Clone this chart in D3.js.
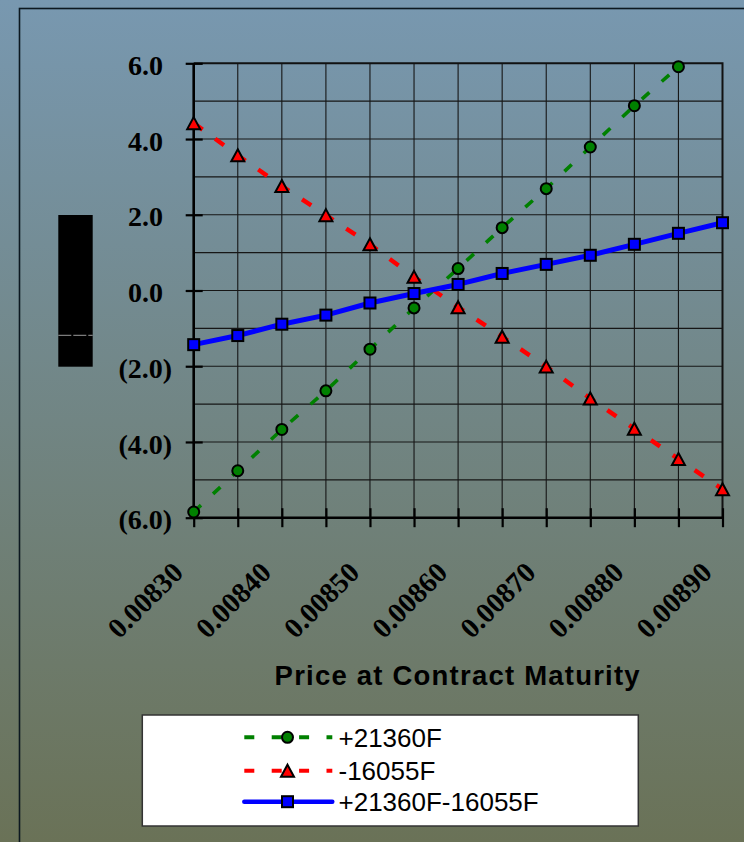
<!DOCTYPE html>
<html>
<head>
<meta charset="utf-8">
<script src="https://cdn.jsdelivr.net/npm/d3@7"></script>
<style>
  html, body { margin: 0; padding: 0; background: #718084; }
  svg { display: block; }
</style>
</head>
<body>
<svg id="chart" width="744" height="842"></svg>
<script>
// Price grid at contract maturity (every 0.00005)
const categories = ["0.00830","0.00835","0.00840","0.00845","0.00850","0.00855","0.00860",
                    "0.00865","0.00870","0.00875","0.00880","0.00885","0.00890"];
const xTickLabels = ["0.00830","0.00840","0.00850","0.00860","0.00870","0.00880","0.00890"];

// Profit / loss per position
const longValues  = [-5.85, -4.76, -3.67, -2.65, -1.55, -0.46, 0.58, 1.66, 2.69, 3.79, 4.88, 5.91];
const shortValues = [4.42, 3.57, 2.76, 1.99, 1.22, 0.36, -0.44, -1.22, -2.01, -2.85, -3.65, -4.45, -5.25];
const netValues   = [-1.43, -1.19, -0.89, -0.65, -0.33, -0.08, 0.16, 0.45, 0.69, 0.93, 1.22, 1.51, 1.79];

const seriesNames = ["+21360F", "-16055F", "+21360F-16055F"];

const yTickValues = [-6, -4, -2, 0, 2, 4, 6];
const yTickLabels = ["(6.0)", "(4.0)", "(2.0)", "0.0", "2.0", "4.0", "6.0"];
const yGridValues = [-5, -4, -3, -2, -1, 0, 1, 2, 3, 4, 5];

const svg = d3.select("#chart");
const W = 744, H = 842;
const plot = { left: 193.7, right: 722.5, top: 63.3, bottom: 517.7 };

// background
const defs = svg.append("defs");
const grad = defs.append("linearGradient").attr("id", "bg").attr("x1", 0).attr("y1", 0).attr("x2", 0).attr("y2", 1);
grad.append("stop").attr("offset", "0%").attr("stop-color", "#7898b0");
grad.append("stop").attr("offset", "100%").attr("stop-color", "#6a7257");
svg.append("rect").attr("width", W).attr("height", H).attr("fill", "url(#bg)");
defs.append("clipPath").attr("id", "plotClip").append("rect")
  .attr("x", plot.left).attr("y", plot.top - 4)
  .attr("width", plot.right - plot.left).attr("height", plot.bottom - plot.top + 8);

// chart frame
svg.append("rect").attr("x", 19.5).attr("y", 8.5).attr("width", 800).attr("height", 900)
  .attr("fill", "none").attr("stroke", "#0c1820").attr("stroke-width", 1.6);

const x = d3.scaleLinear().domain([0, categories.length - 1]).range([plot.left, plot.right]);
const y = d3.scaleLinear().domain([-6, 6]).range([plot.bottom, plot.top]);

// gridlines
const grid = svg.append("g").attr("stroke", "#161616").attr("stroke-width", 1.1);
grid.selectAll("line.h").data(yGridValues).join("line")
  .attr("x1", plot.left).attr("x2", plot.right)
  .attr("y1", d => y(d)).attr("y2", d => y(d));
grid.selectAll("line.v").data(d3.range(1, categories.length - 1)).join("line")
  .attr("y1", plot.top).attr("y2", plot.bottom)
  .attr("x1", d => x(d)).attr("x2", d => x(d));

// plot border (top/right)
svg.append("path")
  .attr("d", `M${plot.left},${y(6)}H${plot.right}V${plot.bottom}`)
  .attr("fill", "none").attr("stroke", "#111").attr("stroke-width", 2);

// y axis
const yAxis = d3.axisLeft(y).tickValues(yTickValues)
  .tickFormat((d, i) => yTickLabels[i]).tickSize(17).tickPadding(13.7);
const yg = svg.append("g").attr("transform", `translate(${plot.left + 9},0)`).call(yAxis);
yg.select(".domain").remove();
yg.selectAll(".tick line").attr("stroke", "#000").attr("stroke-width", 2.2);
yg.selectAll(".tick text")
  .attr("font-family", "'Liberation Serif', 'Times New Roman', serif")
  .attr("font-weight", "bold").attr("font-size", 28).attr("fill", "#000")
  .attr("dy", "0.4em")
  .attr("x", d => d < 0 ? -30.5 : -39.8);

// x axis
const xAxis = d3.axisBottom(x).tickValues(d3.range(categories.length))
  .tickFormat(i => xTickLabels.includes(categories[i]) ? categories[i] : "")
  .tickSize(19).tickPadding(0);
const xg = svg.append("g").attr("transform", `translate(0,${plot.bottom - 9.5})`).call(xAxis);
xg.select(".domain").remove();
xg.selectAll(".tick line").attr("stroke", "#000").attr("stroke-width", 2.2);
xg.selectAll(".tick text")
  .attr("font-family", "'Liberation Serif', 'Times New Roman', serif")
  .attr("font-weight", "bold").attr("font-size", 28.5).attr("fill", "#000")
  .attr("text-anchor", "end").attr("x", null).attr("y", null).attr("dy", "0.35em")
  .attr("transform", "translate(-16.5,59) rotate(-45)");

// axis lines
svg.append("line").attr("x1", plot.left).attr("x2", plot.left).attr("y1", plot.top).attr("y2", plot.bottom + 1)
  .attr("stroke", "#000").attr("stroke-width", 2.6);
svg.append("line").attr("x1", plot.left - 1).attr("x2", plot.right + 1).attr("y1", plot.bottom).attr("y2", plot.bottom)
  .attr("stroke", "#000").attr("stroke-width", 2.6);

// axis title
svg.append("text").attr("x", 274.6).attr("y", 685)
  .attr("font-family", "'Liberation Sans', Arial, sans-serif").attr("font-weight", "bold")
  .attr("font-size", 27.5).attr("fill", "#000")
  .attr("textLength", 365).attr("lengthAdjust", "spacing")
  .text("Price at Contract Maturity");

// y axis title block
svg.append("rect").attr("x", 58.3).attr("y", 215).attr("width", 34.4).attr("height", 151.7).attr("fill", "#000");
svg.append("line").attr("x1", 58.3).attr("x2", 92.7).attr("y1", 335.3).attr("y2", 335.3)
  .attr("stroke", "#9a9a9a").attr("stroke-width", 1).attr("stroke-dasharray", "13,2");

// series
const series = [
  { name: seriesNames[0], values: longValues,  color: "#008000", dash: "10,16.5", width: 3.6, marker: "circle" },
  { name: seriesNames[1], values: shortValues, color: "#ff0000", dash: "11,15.5", width: 4.4, marker: "triangle" },
  { name: seriesNames[2], values: netValues,   color: "#0000ff", dash: null,      width: 5,   marker: "square" }
];

const line = d3.line().x((d, i) => x(i)).y(d => y(d));
const lines = svg.append("g").attr("clip-path", "url(#plotClip)");
series.forEach(s => {
  lines.append("path").datum(s.values).attr("d", line)
    .attr("fill", "none").attr("stroke", s.color).attr("stroke-width", s.width)
    .attr("stroke-dasharray", s.dash).attr("stroke-linejoin", "round");
});

function drawMarker(g, type, cx, cy, color) {
  if (type === "circle") {
    g.append("circle").attr("cx", cx).attr("cy", cy).attr("r", 5.5)
      .attr("fill", color).attr("stroke", "#000").attr("stroke-width", 2);
  } else if (type === "triangle") {
    const w = 13, h = 12;
    g.append("path")
      .attr("d", `M${cx},${cy - h / 2}L${cx + w / 2},${cy + h / 2}L${cx - w / 2},${cy + h / 2}Z`)
      .attr("fill", color).attr("stroke", "#000").attr("stroke-width", 2).attr("stroke-linejoin", "miter");
  } else {
    g.append("rect").attr("x", cx - 5.5).attr("y", cy - 5.5).attr("width", 11).attr("height", 11)
      .attr("fill", color).attr("stroke", "#000").attr("stroke-width", 2);
  }
}
const markers = svg.append("g");
series.forEach(s => {
  s.values.forEach((v, i) => drawMarker(markers, s.marker, x(i), y(v), s.color));
});

// legend
const lg = svg.append("g");
lg.append("rect").attr("x", 142.3).attr("y", 715).attr("width", 496).attr("height", 111)
  .attr("fill", "#fff").attr("stroke", "#333").attr("stroke-width", 1.5);
const legendRows = [737.3, 770.7, 801.7];
series.forEach((s, i) => {
  const ry = legendRows[i];
  lg.append("line").attr("x1", 244.3).attr("x2", 332.3).attr("y1", ry).attr("y2", ry)
    .attr("stroke", s.color).attr("stroke-width", s.dash ? 4 : 4.5)
    .attr("stroke-dasharray", s.dash ? "10,17.4" : null)
    .attr("stroke-linecap", s.dash ? "butt" : "round");
  drawMarker(lg, s.marker, 287.5, ry, s.color);
  lg.append("text").attr("x", 338.5).attr("y", ry).attr("dy", "0.36em")
    .attr("font-family", "'Liberation Sans', Arial, sans-serif").attr("font-size", 26)
    .attr("fill", "#000").text(s.name);
});
</script>
</body>
</html>
